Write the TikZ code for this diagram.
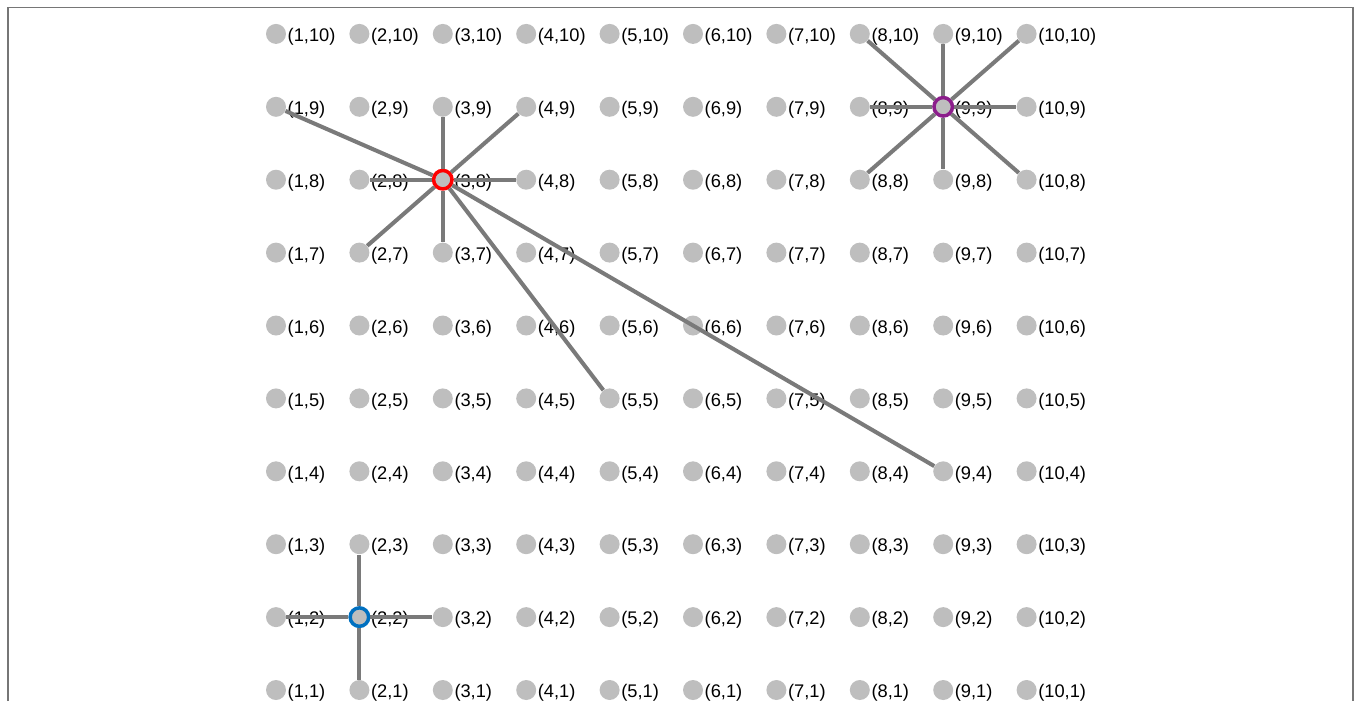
\documentclass[tikz,border=0pt]{standalone}
\usepackage{fontspec}
\setmainfont{Liberation Sans}
\usetikzlibrary{positioning}
\definecolor{dotgray}{RGB}{190,190,190}
\definecolor{linkgray}{RGB}{122,122,122}
\definecolor{framegray}{RGB}{118,118,118}
\definecolor{hubred}{RGB}{255,0,0}
\definecolor{hubpurple}{RGB}{140,30,140}
\definecolor{hubblue}{RGB}{0,112,192}

\begin{document}
\begin{tikzpicture}[
		x=0.02cm, y=-0.02cm,
		every node/.style={font=\fontsize{10.4}{12}\selectfont},
		dot/.style={circle, fill=dotgray, minimum size=0.4cm, inner sep=0pt},
		hub/.style={circle, fill=dotgray, draw=#1, line width=2pt, minimum size=0.37cm, inner sep=0pt},
		link/.style={draw=linkgray, line width=2.3pt}
		]
		
		\useasboundingbox (0,0) rectangle (1356,701);
		
		% Frame
		\draw[framegray, line width=0.85pt] (8,701) -- (8,7.5) -- (1353,7.5) -- (1353,701);
		
		% Grid
		\foreach \i in {1,...,10}
		\foreach \j in {1,...,10}
		{
			\node[dot] (p\i-\j) at ({276+(\i-1)*83.4},{690-(\j-1)*72.9}) {};
			\node[right=0.02cm of p\i-\j, yshift=-0.06cm, inner sep=0pt] (t\i-\j) {(\i,\j)};
		}
		
		% Hubs
		\node[hub=hubred] (hubA) at (p3-8) {};
		\node[hub=hubpurple] (hubB) at (p9-9) {};
		\node[hub=hubblue] (hubC) at (p2-2) {};
		
		% Links
		\foreach \n in {1-9,3-9,4-9,2-8,4-8,2-7,3-7,5-5,9-4}
		\draw[link] (hubA) -- (p\n);
		
		\foreach \n in {8-10,9-10,10-10,8-9,10-9,8-8,9-8,10-8}
		\draw[link] (hubB) -- (p\n);
		
		\foreach \n in {2-3,1-2,3-2,2-1}
		\draw[link] (hubC) -- (p\n);
		
	\end{tikzpicture}
\end{document}
